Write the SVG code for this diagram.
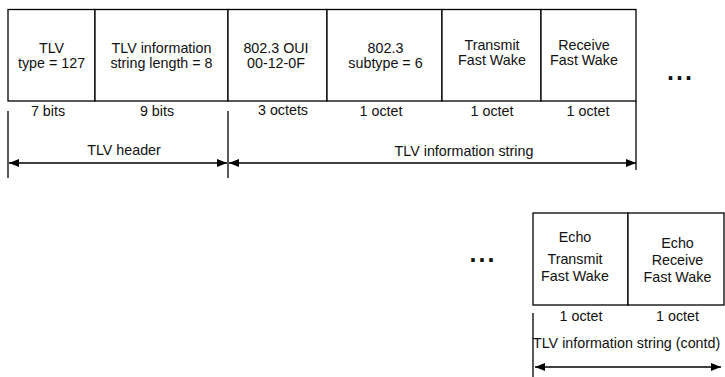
<svg xmlns="http://www.w3.org/2000/svg" width="725" height="377" viewBox="0 0 725 377">
<defs>
<style>
.box{fill:#fff;stroke:#000;stroke-width:1.3}
.ln{stroke:#000;stroke-width:1.3;fill:none}
text{font-family:"Liberation Sans",Arial,sans-serif;font-size:14.3px;fill:#111;text-anchor:middle}
.l{text-anchor:start}
.dots{font-size:25px;font-weight:bold;letter-spacing:2px;text-anchor:start}
</style>
<marker id="ah" viewBox="0 0 10 8" refX="10" refY="4" markerWidth="10" markerHeight="8" markerUnits="userSpaceOnUse" orient="auto-start-reverse">
<path d="M0,0 L10,4 L0,8 Z" fill="#000"/>
</marker>
</defs>
<rect width="725" height="377" fill="#fff"/>
<g id="f-type">
<rect class="box" x="8" y="9.5" width="87" height="91.5"/>
<text x="51.5" y="53">TLV</text>
<text x="51.5" y="67.5">type = 127</text>
<text x="48" y="115.5">7 bits</text>
</g>
<g id="f-length">
<rect class="box" x="95" y="9.5" width="133" height="91.5"/>
<text x="161.5" y="53">TLV information</text>
<text x="161.5" y="67.5">string length = 8</text>
<text x="157" y="115.5">9 bits</text>
</g>
<g id="f-oui">
<rect class="box" x="228" y="9.5" width="99" height="91.5"/>
<text x="276" y="53">802.3 OUI</text>
<text x="276" y="67.5">00-12-0F</text>
<text x="283" y="114.5">3 octets</text>
</g>
<g id="f-subtype">
<rect class="box" x="327" y="9.5" width="115" height="91.5"/>
<text x="385.5" y="53">802.3</text>
<text x="385.5" y="67.5">subtype = 6</text>
<text x="381" y="116">1 octet</text>
</g>
<g id="f-txfw">
<rect class="box" x="442" y="9.5" width="99" height="91.5"/>
<text x="492" y="50">Transmit</text>
<text x="492" y="65">Fast Wake</text>
<text x="492" y="116">1 octet</text>
</g>
<g id="f-rxfw">
<rect class="box" x="541" y="9.5" width="95" height="91.5"/>
<text x="584" y="50">Receive</text>
<text x="584" y="65">Fast Wake</text>
<text x="588" y="116">1 octet</text>
</g>
<g id="ellipsis-top"><text class="dots" x="667" y="80">...</text></g>
<g id="ellipsis-bottom"><text class="dots" x="469.5" y="261.5">...</text></g>
<g id="f-echo-tx">
<rect class="box" x="533" y="213" width="95" height="92"/>
<text x="575" y="241.5">Echo</text>
<text x="575" y="263.5">Transmit</text>
<text x="575" y="281">Fast Wake</text>
<text x="581" y="320.5">1 octet</text>
</g>
<g id="f-echo-rx">
<rect class="box" x="628" y="213" width="96" height="92"/>
<text x="677.5" y="247.5">Echo</text>
<text x="677.5" y="264.5">Receive</text>
<text x="677.5" y="282">Fast Wake</text>
<text x="677.5" y="320.5">1 octet</text>
</g>
<g id="labels">
<text x="124" y="155">TLV header</text>
<text x="464" y="156">TLV information string</text>
<text class="l" x="533" y="348">TLV information string (contd)</text>
</g>
<g id="connectors">
<line class="ln" x1="8" y1="111" x2="8" y2="178"/>
<line class="ln" x1="228" y1="111" x2="228" y2="178"/>
<line class="ln" x1="636" y1="101" x2="636" y2="170"/>
<line class="ln" x1="9" y1="163" x2="227" y2="163" marker-start="url(#ah)" marker-end="url(#ah)"/>
<line class="ln" x1="229" y1="163" x2="636" y2="163" marker-start="url(#ah)" marker-end="url(#ah)"/>
<line class="ln" x1="533" y1="313" x2="533" y2="377"/>
<line class="ln" x1="535" y1="367" x2="721" y2="367" marker-start="url(#ah)" marker-end="url(#ah)"/>
</g>
</svg>
